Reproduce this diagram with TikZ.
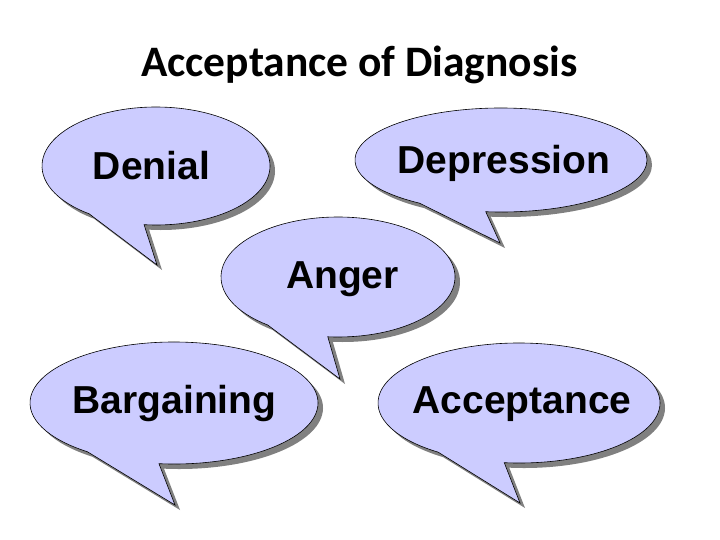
\documentclass[tikz,border=0pt]{standalone}
\usepackage{fontspec}
\usepackage{tikz}
\usetikzlibrary{shadows}
\setmainfont{Liberation Sans}
\newfontfamily\titlefont{Carlito}

\definecolor{bubblefill}{RGB}{204,204,255}
\definecolor{shadowgray}{RGB}{128,128,128}

\tikzset{
  bubble/.style={draw=black, line width=0.6pt, fill=bubblefill,
    drop shadow={shadow xshift=5pt, shadow yshift=-5pt, fill=shadowgray, opacity=1}},
  word/.style={anchor=base, inner sep=0pt, font=\fontsize{39}{46}\selectfont\bfseries}
}

% center, x radius, y radius, right base angle, left base angle, tip
\newcommand{\bubble}[6]{%
  \path[bubble] (#1) ++(#4:#2 and #3)
    arc[start angle=#4, end angle=#5-360, x radius=#2, y radius=#3] -- #6 -- cycle;}

\begin{document}
\begin{tikzpicture}[x=1pt,y=-1pt]
  \useasboundingbox (0,0) rectangle (720,540);

  \node[anchor=base, inner sep=0pt, font=\titlefont\fontsize{43.5}{50}\selectfont\bfseries]
    (title) at (359.5,77) {Acceptance of Diagnosis};

  % bubbles
  \coordinate (denialc) at (156,166);
  \coordinate (depressionc) at (501,160);
  \coordinate (angerc) at (338,277);
  \coordinate (bargainingc) at (174,403);
  \coordinate (acceptancec) at (519,403);

  \bubble{denialc}{114}{59}{96}{126}{(157,265)}
  \bubble{depressionc}{146}{52}{96}{124}{(500,243)}
  \bubble{angerc}{117}{60}{95}{127}{(340,379)}
  \bubble{bargainingc}{144}{61}{96}{127}{(175,505)}
  \bubble{acceptancec}{141}{60}{96}{125}{(520,503)}

  % labels
  \node[word] (denial) at (151.5,180) {Denial};
  \node[word] (depression) at (504,174) {Depression};
  \node[word] (anger) at (342.5,288) {Anger};
  \node[word] (bargaining) at (174.5,413) {Bargaining};
  \node[word] (acceptance) at (522,413) {Acceptance};
\end{tikzpicture}
\end{document}
